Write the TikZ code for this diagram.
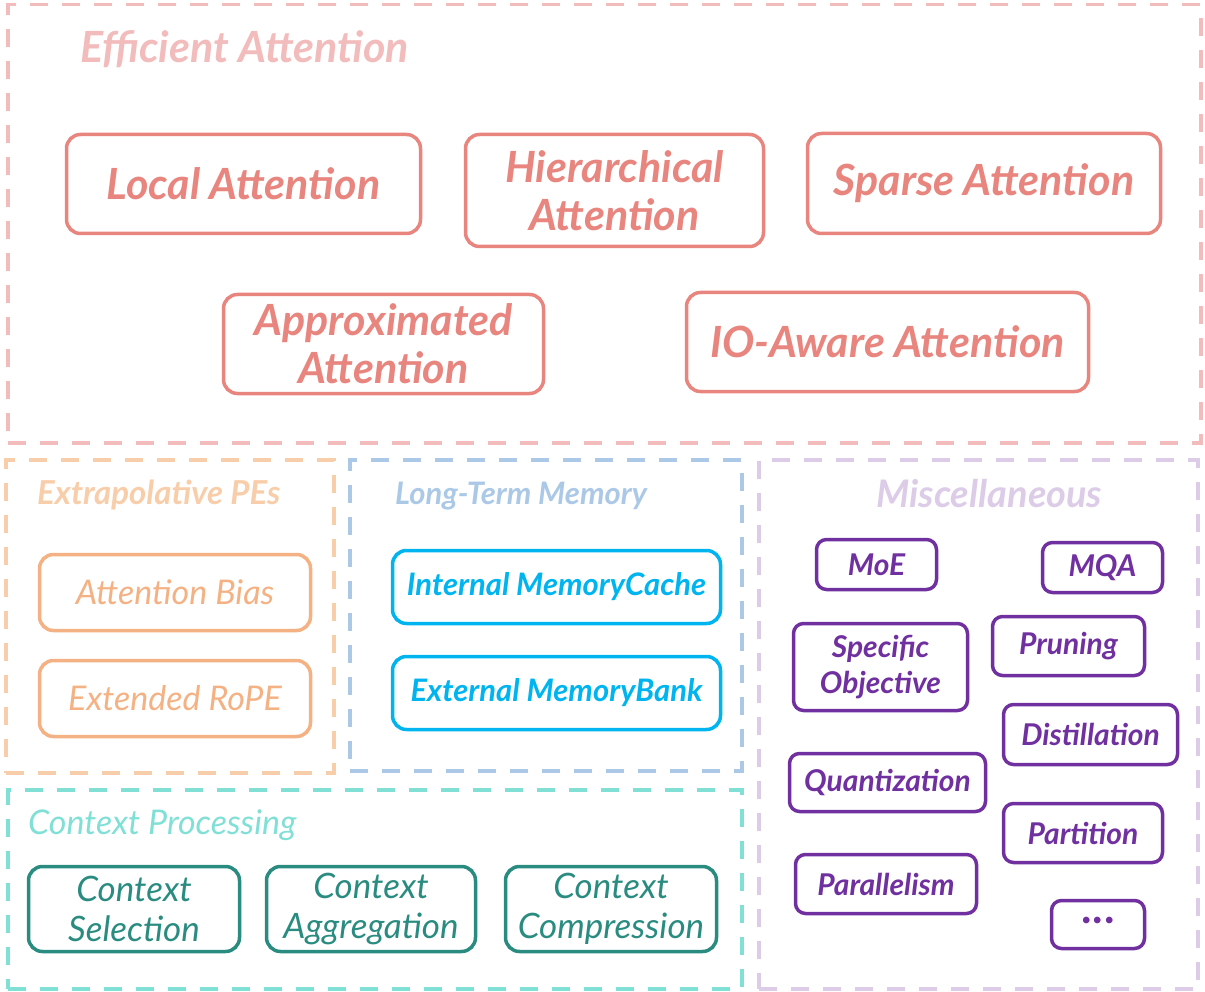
\documentclass[tikz,border=0pt]{standalone}
\usepackage{fontspec}
\setmainfont{Lato}
\begin{document}
\begin{tikzpicture}[x=1pt,y=-1pt,
  group/.style={draw=#1, line width=3.5pt, dash pattern=on 18pt off 14pt},
  title/.style={anchor=base west, inner sep=0pt},
  item/.style={draw=#1, text=#1, line width=3.5pt, rounded corners=14pt, align=center, inner sep=0pt},
  big/.style={font=\fontsize{43}{48}\selectfont\bfseries\itshape},
  mid/.style={font=\fontsize{31}{36}\selectfont\bfseries\itshape},
  small/.style={font=\fontsize{30}{36}\selectfont\bfseries\itshape},
  pe/.style={font=\fontsize{34}{36}\selectfont\itshape},
  ctx/.style={font=\fontsize{35}{40}\selectfont\itshape},
]
\definecolor{eaframe}{HTML}{F2BCBC}
\definecolor{eabox}{HTML}{E8857E}
\definecolor{peframe}{HTML}{F8CDAA}
\definecolor{pebox}{HTML}{F4B183}
\definecolor{ltframe}{HTML}{ABC9E7}
\definecolor{ltbox}{HTML}{00B4F0}
\definecolor{miframe}{HTML}{DDCCE8}
\definecolor{mibox}{HTML}{7030A0}
\definecolor{cpframe}{HTML}{80E0D6}
\definecolor{cpbox}{HTML}{2A8C80}

\useasboundingbox (0,0) rectangle (1205,992);

% group frames
\node[group=eaframe, minimum width=1193pt, minimum height=438pt, anchor=north west] (gEA) at (6,3) {};
\node[group=peframe, minimum width=328pt, minimum height=313pt, anchor=north west] (gPE) at (4,458) {};
\node[group=ltframe, minimum width=392pt, minimum height=311pt, anchor=north west] (gLT) at (348,458) {};
\node[group=miframe, minimum width=439pt, minimum height=529pt, anchor=north west] (gMI) at (757,458) {};
\node[group=cpframe, minimum width=734pt, minimum height=199pt, anchor=north west] (gCP) at (6,788) {};

% group titles
\node[title, text=eaframe, font=\fontsize{43}{43}\selectfont\bfseries\itshape] (tEA) at (80,63) {Efficient Attention};
\node[title, text=peframe, font=\fontsize{33}{33}\selectfont\bfseries\itshape] (tPE) at (37,504) {Extrapolative PEs};
\node[title, text=ltframe, font=\fontsize{31}{31}\selectfont\bfseries\itshape] (tLT) at (395,504) {Long-Term Memory};
\node[title, text=miframe, font=\fontsize{38}{38}\selectfont\bfseries\itshape] (tMI) at (876,507) {Miscellaneous};
\node[title, text=cpframe, font=\fontsize{34}{34}\selectfont\itshape] (tCP) at (28,834) {Context Processing};

% efficient attention
\node[item=eabox, big, minimum width=354pt, minimum height=99pt] (local) at (243.5,184) {Local Attention};
\node[item=eabox, big, minimum width=298pt, minimum height=112pt] (hier) at (614.5,190.5) {Hierarchical\\Attention};
\node[item=eabox, big, minimum width=353pt, minimum height=100pt] (sparse) at (984,183.5) {Sparse Attention};
\node[item=eabox, big, minimum width=320pt, minimum height=99pt] (approx) at (383.5,344) {Approximated\\Attention};
\node[item=eabox, big, minimum width=402pt, minimum height=99pt] (io) at (887.5,342) {IO-Aware Attention};

% extrapolative PEs
\node[item=pebox, pe, minimum width=271pt, minimum height=76pt] (bias) at (175,592.5) {Attention Bias};
\node[item=pebox, pe, minimum width=271pt, minimum height=76pt] (rope) at (175,698.5) {Extended RoPE};

% long-term memory
\node[item=ltbox, mid, minimum width=328pt, minimum height=73pt] (cache) at (556.5,587) {Internal MemoryCache};
\node[item=ltbox, mid, minimum width=328pt, minimum height=73pt] (bank) at (556.5,693) {External MemoryBank};

% miscellaneous
\node[item=mibox, small, minimum width=120pt, minimum height=50pt, rounded corners=10pt] (moe) at (876.5,564.5) {MoE};
\node[item=mibox, small, minimum width=120pt, minimum height=50pt, rounded corners=10pt] (mqa) at (1102.5,567.5) {MQA};
\node[item=mibox, small, minimum width=174pt, minimum height=87pt, rounded corners=10pt] (spec) at (880.5,667) {Specific\\Objective};
\node[item=mibox, small, minimum width=152pt, minimum height=59pt, rounded corners=10pt] (prune) at (1068.5,646) {Pruning};
\node[item=mibox, small, minimum width=174pt, minimum height=60pt, rounded corners=10pt] (distil) at (1090.5,734.5) {Distillation};
\node[item=mibox, small, minimum width=196pt, minimum height=58pt, rounded corners=10pt] (quant) at (887.5,782.5) {Quantization};
\node[item=mibox, small, minimum width=159pt, minimum height=59pt, rounded corners=10pt] (part) at (1083,833) {Partition};
\node[item=mibox, small, minimum width=181pt, minimum height=59pt, rounded corners=10pt] (para) at (886,884) {Parallelism};
\node[item=mibox, minimum width=93pt, minimum height=48pt, rounded corners=10pt, font=\fontsize{44}{44}\selectfont\bfseries] (more) at (1098,924.5) {\raisebox{8pt}{.\kern1pt.\kern1pt.}};

% context processing
\node[item=cpbox, ctx, minimum width=211pt, minimum height=85pt] (sel) at (134,909) {Context\\Selection};
\node[item=cpbox, ctx, minimum width=209pt, minimum height=85pt] (agg) at (371,909) {Context\\Aggregation};
\node[item=cpbox, ctx, minimum width=211pt, minimum height=85pt] (comp) at (611,909) {Context\\Compression};
\end{tikzpicture}
\end{document}
